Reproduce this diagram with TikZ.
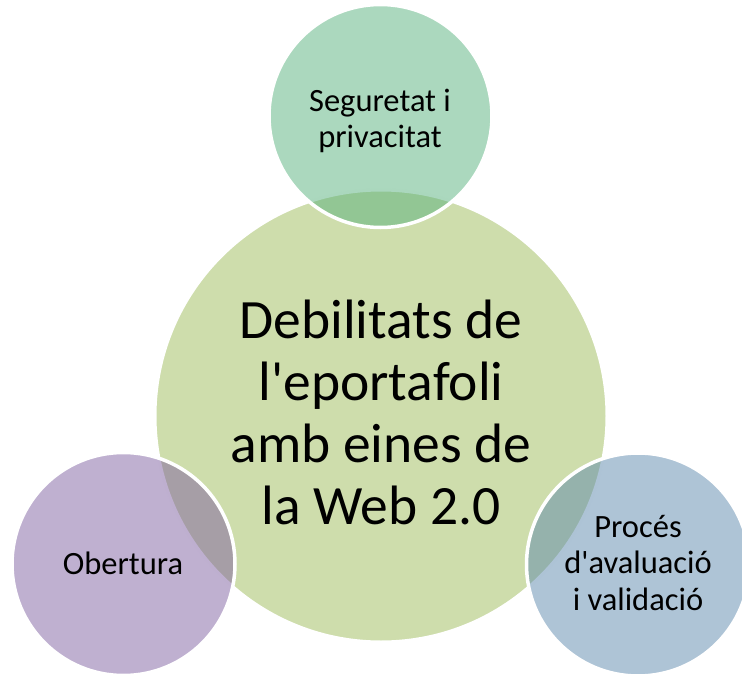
\documentclass[tikz,border=0pt]{standalone}
\usepackage{fontspec}
\setmainfont{Carlito}
\definecolor{bigfill}{RGB}{206,221,172}
\definecolor{topfill}{RGB}{87,177,125}
\definecolor{leftfill}{RGB}{127,97,161}
\definecolor{rightfill}{RGB}{93,137,173}
\tikzset{
  bigcircle/.style={circle, draw=white, line width=3pt, minimum size=452pt, inner sep=0pt, fill=bigfill},
  smallcircle/.style={circle, draw=white, line width=3.5pt, minimum size=223pt, inner sep=0pt, fill opacity=0.5},
  bigtext/.style={align=center, font=\fontsize{55.5}{62}\selectfont, text=black, inner sep=0pt},
  smalltext/.style={align=center, font=\fontsize{32.5}{36.5}\selectfont, text=black, inner sep=0pt}
}
\begin{document}
\begin{tikzpicture}[x=1pt,y=-1pt]
\useasboundingbox (0,0) rectangle (742,677);
\node[bigcircle] (main) at (381,416) {};
\node[smallcircle, fill=topfill] (top) at (380.5,116) {};
\node[smallcircle, fill=leftfill] (left) at (123.5,564) {};
\node[smallcircle, fill=rightfill] (right) at (638,564.5) {};
\node[bigtext] (maintext) at (381,412) {Debilitats de\\l\textquotesingle eportafoli\\amb eines de\\la Web 2.0};
\node[smalltext] (toptext) at (380,121) {Seguretat i\\privacitat};
\node[smalltext] (lefttext) at (123,563) {Obertura};
\node[smalltext] (righttext) at (638,563) {Procés\\d\textquotesingle avaluació\\i validació};
\end{tikzpicture}
\end{document}
